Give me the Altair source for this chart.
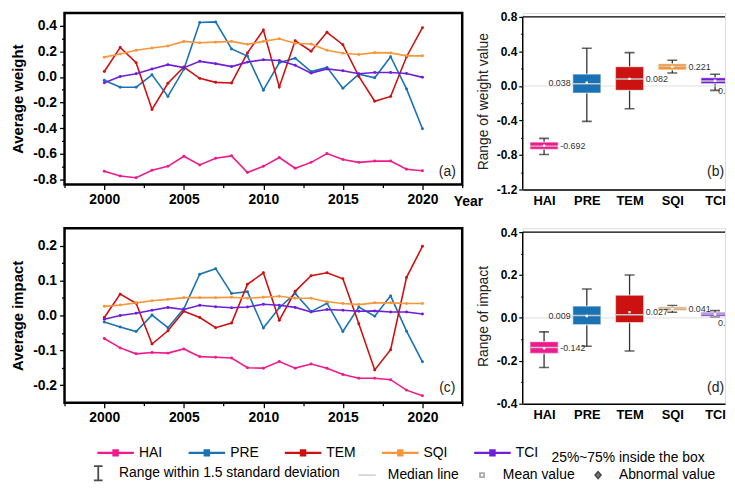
import altair as alt
import pandas as pd

FONT = "Liberation Sans"

years = list(range(2000, 2021))
series = ["HAI", "PRE", "TEM", "SQI", "TCI"]
palette = ["#f01a8c", "#1a72b4", "#cc1111", "#f8963a", "#6f1edb"]

# ---- Average weight (panel a)
w_hai = [-0.736, -0.774, -0.787, -0.728, -0.698, -0.619, -0.687, -0.634, -0.616, -0.746, -0.698,
         -0.629, -0.713, -0.667, -0.598, -0.644, -0.667, -0.657, -0.657, -0.721, -0.733]
w_pre = [-0.025, -0.080, -0.080, 0.017, -0.152, 0.060, 0.425, 0.430, 0.219, 0.163, -0.103,
         0.111, 0.147, 0.042, 0.075, -0.088, 0.022, -0.006, 0.158, -0.093, -0.404]
w_tem = [0.043, 0.231, 0.112, -0.254, -0.049, 0.078, -0.011, -0.042, -0.047, 0.188, 0.367,
         -0.078, 0.283, 0.201, 0.349, 0.252, 0.004, -0.190, -0.152, 0.158, 0.385]
w_sqi = [0.155, 0.180, 0.209, 0.226, 0.242, 0.278, 0.267, 0.272, 0.278, 0.255, 0.278,
         0.298, 0.264, 0.257, 0.209, 0.185, 0.175, 0.190, 0.188, 0.165, 0.165]
w_tci = [-0.045, 0.004, 0.025, 0.063, 0.096, 0.073, 0.122, 0.104, 0.081, 0.116, 0.135,
         0.129, 0.091, 0.030, 0.063, 0.048, 0.025, 0.035, 0.035, 0.027, -0.003]

# ---- Average impact (panel c)
i_hai = [-0.066, -0.093, -0.110, -0.106, -0.108, -0.096, -0.118, -0.120, -0.122, -0.150, -0.151,
         -0.132, -0.151, -0.139, -0.151, -0.169, -0.180, -0.180, -0.184, -0.214, -0.230]
i_pre = [-0.019, -0.033, -0.046, 0.001, -0.035, 0.019, 0.118, 0.134, 0.063, 0.068, -0.036,
         0.022, 0.063, 0.011, 0.035, -0.046, 0.024, -0.002, 0.056, -0.045, -0.133]
i_tem = [-0.006, 0.061, 0.035, -0.082, -0.044, 0.012, -0.006, -0.035, -0.022, 0.089, 0.122,
         -0.014, 0.069, 0.114, 0.122, 0.105, -0.024, -0.156, -0.098, 0.109, 0.198]
i_sqi = [0.026, 0.030, 0.036, 0.042, 0.046, 0.051, 0.051, 0.051, 0.052, 0.049, 0.052,
         0.055, 0.049, 0.049, 0.039, 0.034, 0.031, 0.036, 0.036, 0.034, 0.034]
i_tci = [-0.011, 0.000, 0.006, 0.015, 0.023, 0.017, 0.029, 0.025, 0.022, 0.024, 0.032,
         0.029, 0.023, 0.010, 0.017, 0.015, 0.012, 0.013, 0.010, 0.010, 0.004]

# ---- Box statistics, weight (panel b)
wb_q1 = [-0.736, -0.082, -0.051, 0.185, 0.026]
wb_q3 = [-0.651, 0.138, 0.223, 0.258, 0.096]
wb_med = [-0.697, 0.026, 0.080, 0.227, 0.057]
wb_lo = [-0.794, -0.411, -0.264, 0.150, -0.051]
wb_hi = [-0.608, 0.436, 0.386, 0.297, 0.135]
wb_mean = [-0.692, 0.038, 0.082, 0.221, 0.060]
wb_lbl = ["-0.692", "0.038", "0.082", "0.221", "0.060"]

# ---- Box statistics, impact (panel d)
ib_q1 = [-0.166, -0.032, -0.022, 0.035, 0.008]
ib_q3 = [-0.111, 0.055, 0.106, 0.052, 0.026]
ib_med = [-0.138, 0.011, 0.015, 0.045, 0.018]
ib_lo = [-0.231, -0.132, -0.154, 0.026, 0.005]
ib_hi = [-0.065, 0.135, 0.200, 0.058, 0.034]
ib_mean = [-0.142, 0.009, 0.027, 0.041, 0.016]
ib_lbl = ["-0.142", "0.009", "0.027", "0.041", "0.016"]
label_side = ["right", "left", "right", "right", "below"]

key_names = ["Range within 1.5 standard deviation", "Median line", "Mean value", "Abnormal value"]
key_paths = ["M-0.55,-0.9H0.55M0,-0.9V0.9M-0.55,0.9H0.55",
             "M-1.1,0H1.1",
             "M-0.25,-0.25H0.25V0.25H-0.25Z",
             "M0,-0.42L0.36,0L0,0.42L-0.36,0Z"]
key_strokes = ["black", "#c4c4c4", "#888888", "black"]
key_fills = ["transparent", "transparent", "white", "black"]

color_scale = alt.Scale(domain=series, range=palette)


def cond(test, minor, major):
    return {"condition": {"test": test, "value": minor}, "value": major}


def fmt_expr(test, digits):
    return f"{test} ? '' : replace(format(datum.value, '.{digits}f'), '\u2212', '-')"


def long_df(cols):
    rows = []
    for name, vals in zip(series, cols):
        for y, v in zip(years, vals):
            rows.append({"year": y, "value": v, "series": name})
    return pd.DataFrame(rows)


series_legend = alt.Legend(
    orient="none", legendX=42, legendY=434, direction="horizontal", columns=5,
    symbolType="M-2.3,0H2.3M-0.26,-0.3H0.26V0.3H-0.26Z", symbolSize=256, symbolStrokeWidth=2.4,
    labelFont=FONT, labelFontSize=14, labelColor="black", labelOffset=14, columnPadding=21,
    title="25%~75% inside the box", titleOrient="right", titleFont=FONT, titleFontSize=14,
    titleFontWeight="normal", titleColor="black", titlePadding=13, titleBaseline="top",
    padding=0)

key_legend = alt.Legend(
    orient="none", legendX=25, legendY=455, direction="horizontal", columns=4,
    symbolSize=256, symbolStrokeWidth=1.8, labelFont=FONT, labelFontSize=14, labelColor="black",
    labelOffset=12, columnPadding=14, labelLimit=400, padding=0, titlePadding=0)

xvals = [1997.5 + 2.5 * k for k in range(11)]
xtest = "datum.value % 5 != 0"


def line_panel(cols, ydom, yvals, ytest, ytitle, tag, tag_y, height, year_title):
    df = long_df(cols)
    xaxis_kw = dict(values=xvals, format="d", labelExpr=f"{xtest} ? '' : datum.label",
                    tickSize=cond(xtest, 3, 5), domain=False, tickColor="black", tickWidth=1.3,
                    labelFontSize=14, labelFontWeight="bold", labelPadding=3, grid=False,
                    labelFlush=False, labelColor="black", labelOverlap=False)
    if year_title:
        xaxis_kw.update(title="Year", titleFontSize=14, titleFontWeight="bold", titleX=392,
                        titleY=17, titleAlign="left", titleBaseline="middle", titleAngle=0,
                        titleColor="black")
    else:
        xaxis_kw["title"] = ""
    xaxis = alt.Axis(**xaxis_kw)
    yaxis = alt.Axis(values=yvals, labelExpr=fmt_expr(ytest, 1), tickSize=cond(ytest, 3, 5),
                     domain=False, tickColor="black", tickWidth=1.3, labelFontSize=14,
                     labelFontWeight="bold", labelPadding=3, grid=False, title=ytitle,
                     titleFontSize=15, titleFontWeight="bold", titlePadding=7, titleColor="black",
                     labelColor="black", labelOverlap=False)
    xs = alt.Scale(domain=[1997.5, 2022.5], nice=False, zero=False)
    ys = alt.Scale(domain=ydom, nice=False, zero=False)
    color = alt.Color("series:N", scale=color_scale, legend=series_legend,
                      title="25%~75% inside the box")
    base = alt.Chart(df)
    lines = base.mark_line(strokeWidth=1.6).encode(
        x=alt.X("year:Q", scale=xs, axis=xaxis), y=alt.Y("value:Q", scale=ys, axis=yaxis),
        color=color, detail="series:N")
    pts = base.mark_point(filled=True, size=9, opacity=1).encode(
        x=alt.X("year:Q", scale=xs, axis=xaxis), y=alt.Y("value:Q", scale=ys, axis=yaxis),
        color=color)
    lab = alt.Chart(pd.DataFrame({"t": [tag]})).mark_text(
        align="center", baseline="middle", fontSize=14, font=FONT, color="#222222"
    ).encode(x=alt.value(386), y=alt.value(tag_y), text="t:N")
    return alt.layer(lines, pts, lab).properties(
        width=401, height=height, view=alt.ViewBackground(stroke="black", strokeWidth=2.5))


BOX_W = 204


def box_panel(q1, q3, med, lo, hi, mean, lbl, ydom, top_line, yvals, ytest, ytitle, tag, tag_y,
              height, with_key):
    df = pd.DataFrame({"name": series, "pos": list(range(5)), "q1": q1, "q3": q3, "med": med,
                       "lo": lo, "hi": hi, "mean": mean, "lbl": lbl, "side": label_side})
    xdom = [-0.5, 4.233]
    xs = alt.Scale(domain=xdom, nice=False, zero=False)
    ys = alt.Scale(domain=ydom, nice=False, zero=False)
    names_js = "[" + ",".join(f"'{s}'" for s in series) + "]"
    xaxis = alt.Axis(values=list(range(5)), labelExpr=f"{names_js}[datum.value]", ticks=False,
                     domain=True, domainColor="black", domainWidth=1.5, labelFontSize=13,
                     labelFontWeight="bold", labelPadding=5, grid=False, title="",
                     labelFlush=False, labelColor="black", labelOverlap=False)
    yaxis = alt.Axis(values=yvals, labelExpr=fmt_expr(ytest, 1), tickSize=cond(ytest, 2, 4),
                     domain=False, tickColor="black", tickWidth=1.2,
                     labelFontSize=12, labelFontWeight="bold", labelPadding=2, grid=False,
                     title=ytitle, titleFontSize=14, titleFontWeight="normal", titlePadding=6,
                     titleColor="#222222", labelColor="black", labelOverlap=False)

    def X(f):
        return alt.X(f"{f}:Q", scale=xs, axis=xaxis)

    def Y(f):
        return alt.Y(f"{f}:Q", scale=ys, axis=yaxis)

    base = alt.Chart(df).transform_calculate(xa="datum.pos - 0.33", xb="datum.pos + 0.33")
    frame = alt.Chart(pd.DataFrame({"k": [0]})).transform_calculate(
        fx0=str(xdom[0]), fx1=str(xdom[1]), fy0=str(ydom[0]), fyt=str(top_line), fz="0")
    zero = frame.mark_rule(color="#dedede", strokeWidth=1).encode(
        x=X("fx0"), x2="fx1:Q", y=Y("fz"))
    whisk = base.mark_rule(color="#333333", strokeWidth=1.3, clip=True).encode(
        x=X("pos"), y=Y("lo"), y2="hi:Q")
    cap_lo = base.mark_tick(orient="horizontal", color="#222222", thickness=1.6, size=10,
                            clip=True).encode(x=X("pos"), y=Y("lo"))
    cap_hi = base.mark_tick(orient="horizontal", color="#222222", thickness=1.6, size=10,
                            clip=True).encode(x=X("pos"), y=Y("hi"))
    box = base.mark_bar(stroke="white", strokeOpacity=0.55, strokeWidth=1.3, clip=True).encode(
        x=X("xa"), x2="xb:Q", y=Y("q1"), y2="q3:Q",
        color=alt.Color("name:N", scale=color_scale, legend=None))
    medl = base.mark_rule(color="#c8c8c8", strokeWidth=1.4, clip=True).encode(
        x=X("xa"), x2="xb:Q", y=Y("med"))
    meanp = base.mark_point(shape="square", filled=True, color="white", size=6, opacity=1,
                            clip=True).encode(x=X("pos"), y=Y("mean"))
    tstyle = dict(baseline="middle", fontSize=9, font=FONT, color="#333333", clip=True)
    t_right = base.transform_filter("datum.side == 'right'").mark_text(
        align="left", dx=2, **tstyle).encode(x=X("xb"), y=Y("mean"), text="lbl:N")
    t_left = base.transform_filter("datum.side == 'left'").mark_text(
        align="right", dx=-2, **tstyle).encode(x=X("xa"), y=Y("mean"), text="lbl:N")
    t_below = base.transform_filter("datum.side == 'below'").mark_text(
        align="left", dx=3, dy=7, **tstyle).encode(x=X("pos"), y=Y("q1"), text="lbl:N")
    left_frame = frame.mark_rule(color="black", strokeWidth=1.4).encode(
        x=X("fx0"), y=Y("fy0"), y2="fyt:Q")
    top_frame = frame.mark_rule(color="black", strokeWidth=1.2).encode(
        y=Y("fyt"), x=X("fx0"), x2="fx1:Q")
    lab = alt.Chart(pd.DataFrame({"t": [tag]})).mark_text(
        align="right", baseline="middle", fontSize=14, font=FONT, color="#222222"
    ).encode(x=alt.value(BOX_W - 1), y=alt.value(tag_y), text="t:N")
    layers = [whisk, zero, cap_lo, cap_hi, box, medl, meanp, t_right, t_left, t_below,
              left_frame, top_frame, lab]
    if with_key:
        kdf = pd.DataFrame({"key": key_names})
        dummy = alt.Chart(kdf).transform_filter("false").mark_point(size=30).encode(
            shape=alt.Shape("key:N", scale=alt.Scale(domain=key_names, range=key_paths),
                            legend=key_legend, title=""),
            stroke=alt.Stroke("key:N", scale=alt.Scale(domain=key_names, range=key_strokes),
                              legend=key_legend, title=""),
            fill=alt.Fill("key:N", scale=alt.Scale(domain=key_names, range=key_fills),
                          legend=key_legend, title=""))
        layers.append(dummy)
    return alt.layer(*layers).properties(width=BOX_W, height=height)


tl_yvals = [round(-0.8 + 0.1 * k, 2) for k in range(13)]
bl_yvals = [round(-0.2 + 0.05 * k, 3) for k in range(9)]
tr_yvals = [round(-1.2 + 0.2 * k, 2) for k in range(11)]
br_yvals = [round(-0.4 + 0.1 * k, 2) for k in range(9)]

tl = line_panel([w_hai, w_pre, w_tem, w_sqi, w_tci], [-0.84, 0.5], tl_yvals,
                "abs(round(datum.value*10)) % 2 == 1", "Average weight", "(a)", 160, 173, True)
bl = line_panel([i_hai, i_pre, i_tem, i_sqi, i_tci], [-0.25, 0.25], bl_yvals,
                "abs(round(datum.value*20)) % 2 == 1", "Average impact", "(c)", 161, 176, False)
tr = box_panel(wb_q1, wb_q3, wb_med, wb_lo, wb_hi, wb_mean, wb_lbl, [-1.2, 0.846], 0.8,
               tr_yvals, "abs(round(datum.value*5)) % 2 == 1", "Range of weight value",
               "(b)", 160, 178, True)
br = box_panel(ib_q1, ib_q3, ib_med, ib_lo, ib_hi, ib_mean, ib_lbl, [-0.4, 0.4184], 0.4,
               br_yvals, "abs(round(datum.value*10)) % 2 == 1", "Range of impact",
               "(d)", 161, 177, False)

chart = alt.concat(
    tl, tr, bl, br, columns=2, spacing={"row": 39, "column": 61}, bounds="flush", align="each"
).properties(
    padding={"left": 1, "top": 0, "right": 0, "bottom": 0}
).configure_view(stroke="transparent", strokeWidth=2.5).configure_axis(
    labelFont=FONT, titleFont=FONT
).configure(font=FONT, background="white")

chart.save("out.html", embed_options={"renderer": "svg", "actions": False})
